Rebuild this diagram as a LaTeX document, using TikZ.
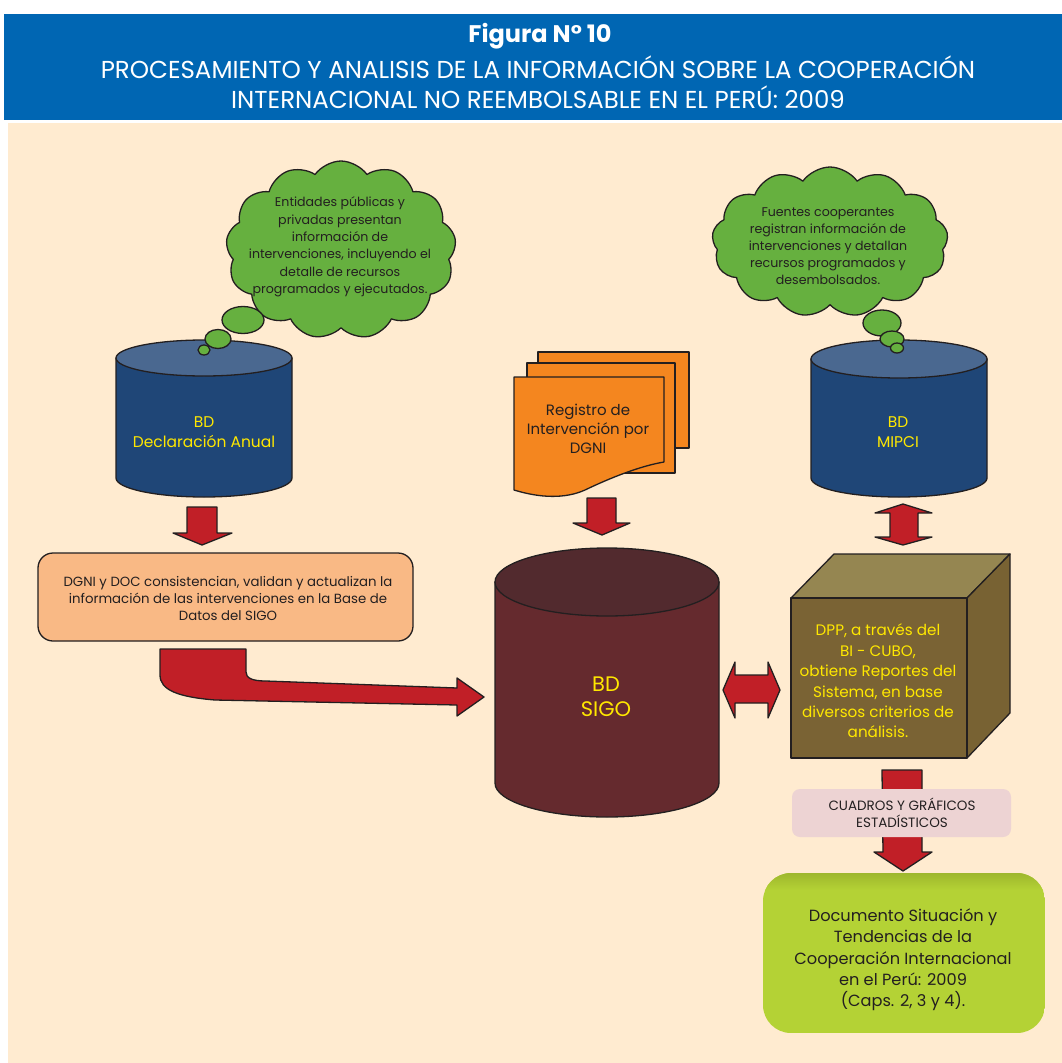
\documentclass[tikz,border=0pt]{standalone}
\usepackage{fontspec}
\setmainfont{Poppins}
\usetikzlibrary{shapes.symbols,shapes.geometric}
\definecolor{titleblue}{HTML}{0066B3}
\definecolor{cream}{HTML}{FFEBD0}
\definecolor{ink}{HTML}{231F20}
\definecolor{cloudgreen}{HTML}{66B03F}
\definecolor{cylblue}{HTML}{1F4677}
\definecolor{cyltop}{HTML}{4A6890}
\definecolor{sigobody}{HTML}{652A2E}
\definecolor{sigotop}{HTML}{522A2E}
\definecolor{docorange}{HTML}{F4861F}
\definecolor{boxorange}{HTML}{F9B985}
\definecolor{arrowred}{HTML}{C11F27}
\definecolor{cubefront}{HTML}{7A6334}
\definecolor{cubetop}{HTML}{958651}
\definecolor{cubeside}{HTML}{786233}
\definecolor{pinkbox}{HTML}{EDD3D3}
\definecolor{limegreen}{HTML}{B4D235}
\definecolor{limedark}{HTML}{9EB72D}
\definecolor{txtyellow}{HTML}{FFE800}
\newcommand{\fsz}[2]{\fontsize{#1}{#2}\selectfont}
\begin{document}
\begin{tikzpicture}[x=1pt,y=-1pt,line join=round,
  outl/.style={draw=ink,line width=1.3pt},
  redarrow/.style={outl,fill=arrowred},
  cloudbox/.style={cloud,outl,fill=cloudgreen,inner sep=0pt},
  bubble/.style={ellipse,outl,fill=cloudgreen,inner sep=0pt},
  darktext/.style={text=ink,align=center,inner sep=0pt},
  yeltext/.style={text=txtyellow,align=center,inner sep=0pt}]
\useasboundingbox (0,0) rectangle (1062,1063);
\fill[white] (0,0) rectangle (1062,1063);
\fill[titleblue] (4,14) rectangle (1062,120);
\fill[cream] (8,123) rectangle (1062,1063);
% title
\node[text=white,inner sep=0pt,font=\fsz{24}{28}\bfseries] (t1) at (540,36) {Figura N° 10};
\node[text=white,inner sep=0pt,font=\fsz{24.5}{28}] (t2) at (538,67) {PROCESAMIENTO Y ANALISIS DE LA INFORMACIÓN SOBRE LA COOPERACIÓN};
\node[text=white,inner sep=0pt,font=\fsz{24.5}{28}] (t3) at (538,97) {INTERNACIONAL NO REEMBOLSABLE EN EL PERÚ: 2009};

% left cylinder
\path[outl,fill=cylblue] (116,358) -- (116,478) arc[start angle=180,end angle=360,x radius=88pt,y radius=19pt] -- (292,358) -- cycle;
\draw[outl,fill=cyltop] (204,358) ellipse[x radius=88pt,y radius=18pt];
\node[yeltext,font=\fsz{15.5}{20}] (cylL) at (204,432) {BD\\Declaración Anual};

% right cylinder
\path[outl,fill=cylblue] (811,359) -- (811,478) arc[start angle=180,end angle=360,x radius=88pt,y radius=19pt] -- (987,359) -- cycle;
\draw[outl,fill=cyltop] (899,359) ellipse[x radius=88pt,y radius=19pt];
\node[yeltext,font=\fsz{15.5}{20}] (cylR) at (898,432) {BD\\MIPCI};

% left cloud
\node[cloudbox,cloud puffs=13,cloud puff arc=110,aspect=1.3,minimum width=230pt,minimum height=178pt] (cloudL) at (341,250) {};
\node[bubble,minimum width=42pt,minimum height=27pt] (bL1) at (243,320) {};
\node[bubble,minimum width=26pt,minimum height=19pt] (bL2) at (218,339) {};
\node[bubble,minimum width=12pt,minimum height=10pt] (bL3) at (204,350) {};
\node[darktext,font=\fsz{12.6}{17.4}] (cloudLtext) at (340,247) {Entidades públicas y\\privadas presentan\\información de\\intervenciones, incluyendo el\\detalle de recursos\\programados y ejecutados.};

% right cloud
\node[cloudbox,cloud puffs=13,cloud puff arc=110,aspect=1.6,minimum width=236pt,minimum height=150pt] (cloudR) at (830,242) {};
\node[bubble,minimum width=38pt,minimum height=26pt] (bR1) at (882,323) {};
\node[bubble,minimum width=24pt,minimum height=16pt] (bR2) at (892,339) {};
\node[bubble,minimum width=13pt,minimum height=10pt] (bR3) at (897,348) {};
\node[darktext,font=\fsz{12.6}{17}] (cloudRtext) at (828,246) {Fuentes cooperantes\\registran información de\\intervenciones y detallan\\recursos programados y\\desembolsados.};

% document stack
\draw[outl,fill=docorange] (538,352) rectangle (689,448);
\draw[outl,fill=docorange] (527,363) rectangle (675,473);
\draw[outl,fill=docorange] (514,377) -- (664,377) -- (664,462)
  .. controls (640,466) and (610,478) .. (585,490)
  .. controls (565,499) and (540,498) .. (514,490) -- cycle;
\node[darktext,font=\fsz{15}{19}] (doc) at (588,429) {Registro de\\Intervención por\\DGNI};

% arrows down
\draw[redarrow] (187,507) -- (217,507) -- (217,533) -- (232,533) -- (202,545) -- (173,533) -- (187,533) -- cycle;
\draw[redarrow] (587,498) -- (616,498) -- (616,523) -- (630,523) -- (602,535) -- (573,523) -- (587,523) -- cycle;
% vertical double arrow
\draw[redarrow] (903,504) -- (932,513) -- (918,513) -- (918,537) -- (932,537) -- (903,545) -- (875,537) -- (890,537) -- (890,513) -- (875,513) -- cycle;

% orange box
\draw[outl,fill=boxorange,rounded corners=15pt] (38,553) rectangle (413,641);
\node[darktext,font=\fsz{13.3}{17}] (valid) at (228,598) {DGNI y DOC consistencian, validan y actualizan la\\información de las intervenciones en la Base de\\Datos del SIGO};

% bent arrow
\draw[redarrow] (160,649) -- (246,649) -- (246,672)
  .. controls (246,678) and (252,681) .. (266,681)
  -- (457,688) -- (457,678) -- (484,697) -- (457,716) -- (457,705)
  -- (215,700) .. controls (178,697) and (160,690) .. (160,675) -- cycle;

% SIGO cylinder
\path[outl,fill=sigobody] (495,582) -- (495,783) arc[start angle=180,end angle=360,x radius=112pt,y radius=34pt] -- (719,582) -- cycle;
\draw[outl,fill=sigotop] (607,582) ellipse[x radius=112pt,y radius=34pt];
\node[yeltext,font=\fsz{21}{25}] (sigo) at (606,697) {BD\\SIGO};

% horizontal double arrow
\draw[redarrow] (723,690) -- (735,662) -- (735,675) -- (768,675) -- (768,662) -- (780,690) -- (768,718) -- (768,703) -- (735,703) -- (735,718) -- cycle;

% cube
\draw[outl,fill=cubetop] (791,598) -- (834,554) -- (1010,554) -- (967,598) -- cycle;
\draw[outl,fill=cubeside] (967,598) -- (1010,554) -- (1010,713) -- (967,758) -- cycle;
\draw[outl,fill=cubefront] (791,598) rectangle (967,758);
\node[yeltext,font=\fsz{15.2}{20.4}] (cube) at (878,681) {DPP, a través del\\BI - CUBO,\\obtiene Reportes del\\Sistema, en base\\diversos criterios de\\análisis.};

% arrow from cube to final doc
\draw[redarrow] (882,770) -- (922,770) -- (922,852) -- (932,852) -- (903,871) -- (874,852) -- (883,852) -- cycle;
\fill[pinkbox,rounded corners=8pt] (792,789) rectangle (1011,837);
\node[darktext,font=\fsz{13.5}{17}] (cuadros) at (902,813) {CUADROS Y GRÁFICOS\\ESTADÍSTICOS};

% final green box
\begin{scope}
\clip[rounded corners=28pt] (763,873) rectangle (1045,1033);
\fill[limegreen] (763,873) rectangle (1045,1033);
\shade[top color=limedark,bottom color=limegreen] (763,873) rectangle (1045,890);
\end{scope}
\node[darktext,font=\fsz{16.2}{21.3}] (final) at (903,960) {Documento Situación y\\Tendencias de la\\Cooperación Internacional\\en el Perú: 2009\\(Caps. 2, 3 y 4).};
\end{tikzpicture}
\end{document}
